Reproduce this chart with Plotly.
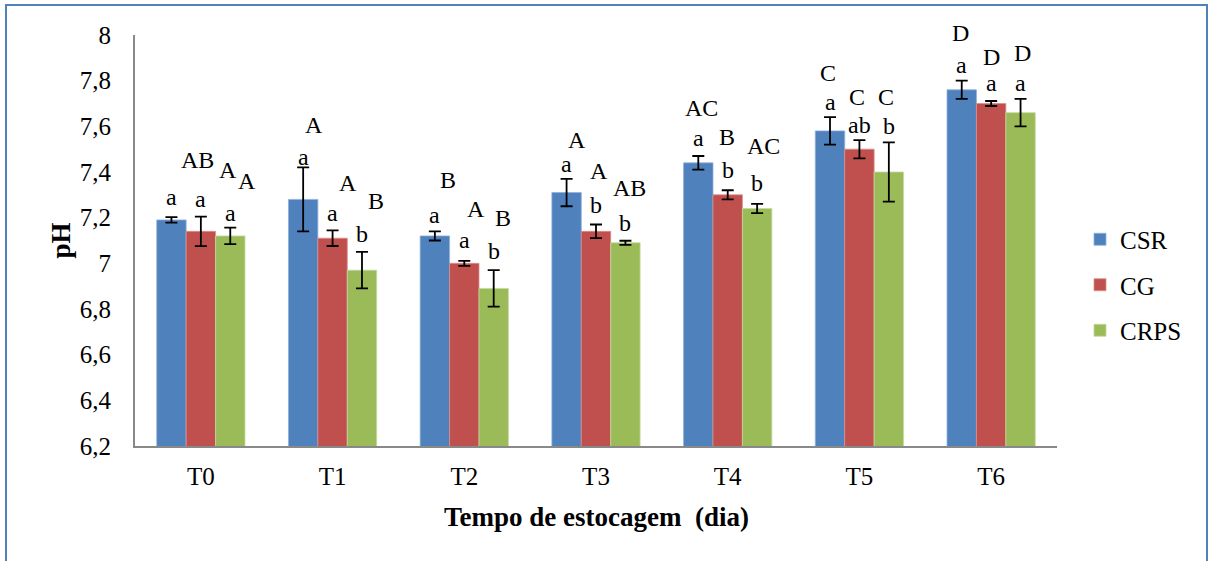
import plotly.graph_objects as go

# ---------------- data ----------------
categories = ["T0", "T1", "T2", "T3", "T4", "T5", "T6"]
series_names = ["CSR", "CG", "CRPS"]

csr = [7.19, 7.28, 7.12, 7.31, 7.44, 7.58, 7.76]
csr_err = [0.012, 0.14, 0.02, 0.06, 0.03, 0.06, 0.04]
cg = [7.14, 7.11, 7.00, 7.14, 7.30, 7.50, 7.70]
cg_err = [0.065, 0.034, 0.011, 0.03, 0.02, 0.04, 0.011]
crps = [7.12, 6.97, 6.89, 7.09, 7.24, 7.40, 7.66]
crps_err = [0.036, 0.08, 0.08, 0.009, 0.02, 0.13, 0.06]

csr_lower = ["a", "a", "a", "a", "a", "a", "a"]
cg_lower = ["a", "a", "a", "b", "b", "ab", "a"]
crps_lower = ["a", "b", "b", "b", "b", "b", "a"]
csr_upper = ["AB", "A", "B", "A", "AC", "C", "D"]
cg_upper = ["A", "A", "A", "A", "B", "C", "D"]
crps_upper = ["A", "B", "B", "AB", "AC", "C", "D"]

y_tickvals = [6.2, 6.4, 6.6, 6.8, 7.0, 7.2, 7.4, 7.6, 7.8, 8.0]
y_ticktext = ["6,2", "6,4", "6,6", "6,8", "7", "7,2", "7,4", "7,6", "7,8", "8"]

# ---------------- style / layout ----------------
colors = ["#4F81BD", "#C0504D", "#9BBB59"]
edge = ["#8EB0DB", "#DC8D8B", "#C4D99E"]
FONT = "Liberation Serif"

W_FIG, H_FIG = 1210, 561
L, T = 135, 35
PW, PH = 922, 411
R, B = W_FIG - L - PW, H_FIG - T - PH
BARGAP = 0.33

# label placement offsets (pixels), per series
lower_gap = [[20.6, 10.7, 16, 15, 17.7, 15.3, 16],
             [17.4, 17, 21, 19.3, 20.7, 15, 17.7],
             [14.7, 17.7, 18.7, 18, 20.7, 16.3, 15.7]]
upper_dy = [[37, 32, 35, 24, 30, 29, 32],
            [29, 30, 31, 34, 33, 28, 26],
            [32, 33, 33, 35, 37, 29, 30]]
upper_dx = [[26, 11, 13, 10, 3, -2, -1],
            [27, 15, 12, 3, -1, -2, 0],
            [17, 14, 9, 4, 6, -3, 2]]


def pxx(px):
    """figure pixel x -> paper x"""
    return (px - L) / PW


def pxy(py):
    """figure pixel y -> paper y"""
    return (T + PH - py) / PH


values = [csr, cg, crps]
errors = [csr_err, cg_err, crps_err]
lowers = [csr_lower, cg_lower, crps_lower]
uppers = [csr_upper, cg_upper, crps_upper]

fig = go.Figure()
for i, name in enumerate(series_names):
    fig.add_trace(go.Bar(
        x=categories, y=values[i], name=name,
        marker=dict(color=colors[i], line=dict(color=edge[i], width=0.8)),
        error_y=dict(type="data", array=errors[i], color="black",
                     thickness=1.8, width=6),
        legendgroup=name,
    ))

bar_w = PW / len(categories) * (1 - BARGAP) / 3
annotations = []
for i in range(3):
    off = (i - 1) * bar_w
    for j, c in enumerate(categories):
        top = values[i][j] + errors[i][j]
        annotations.append(dict(
            x=c, y=top, xref="x", yref="y", text=lowers[i][j],
            showarrow=False, xshift=off, yshift=lower_gap[i][j],
            yanchor="middle", xanchor="center",
            font=dict(family=FONT, size=24, color="black")))
        annotations.append(dict(
            x=c, y=top, xref="x", yref="y", text=uppers[i][j],
            showarrow=False, xshift=off + upper_dx[i][j],
            yshift=lower_gap[i][j] + upper_dy[i][j],
            yanchor="middle", xanchor="center",
            font=dict(family=FONT, size=24, color="black")))

annotations.append(dict(
    x=0.5, y=pxy(517), xref="paper", yref="paper",
    text="<b>Tempo de estocagem \u00a0(dia)</b>", showarrow=False,
    xanchor="center", yanchor="middle",
    font=dict(family=FONT, size=27, color="black")))
annotations.append(dict(
    x=pxx(60), y=0.5, xref="paper", yref="paper",
    text="<b>pH</b>", showarrow=False, textangle=-90,
    xanchor="center", yanchor="middle",
    font=dict(family=FONT, size=27, color="black")))

fig.update_layout(
    width=W_FIG, height=H_FIG,
    margin=dict(l=L, r=R, t=T, b=B, pad=0),
    paper_bgcolor="white", plot_bgcolor="white",
    barmode="group", bargap=BARGAP, bargroupgap=0,
    font=dict(family=FONT, size=25, color="black"),
    showlegend=True,
    legend=dict(x=pxx(1080), y=pxy(285), xanchor="left", yanchor="middle",
                font=dict(family=FONT, size=25, color="black"),
                traceorder="grouped", tracegroupgap=10,
                bgcolor="rgba(0,0,0,0)"),
    annotations=annotations,
    shapes=[dict(type="rect", xref="paper", yref="paper",
                 x0=pxx(6), x1=pxx(1207), y0=pxy(590), y1=pxy(5),
                 line=dict(color="#4F81BD", width=2), layer="below")],
)
fig.update_xaxes(showline=True, linecolor="#898989", linewidth=2,
                 ticks="", showgrid=False, ticklabelstandoff=7,
                 tickfont=dict(family=FONT, size=25, color="black"))
fig.update_yaxes(range=[6.2, 8.0], showline=True, linecolor="#898989",
                 linewidth=2, ticks="", showgrid=False, zeroline=False,
                 tickvals=y_tickvals, ticktext=y_ticktext,
                 ticklabelstandoff=17,
                 tickfont=dict(family=FONT, size=25, color="black"))

fig.write_html(
    "out.html",
    config={"displayModeBar": False},
    post_script="document.body.style.margin='0';"
                "document.body.style.overflow='hidden';",
)
